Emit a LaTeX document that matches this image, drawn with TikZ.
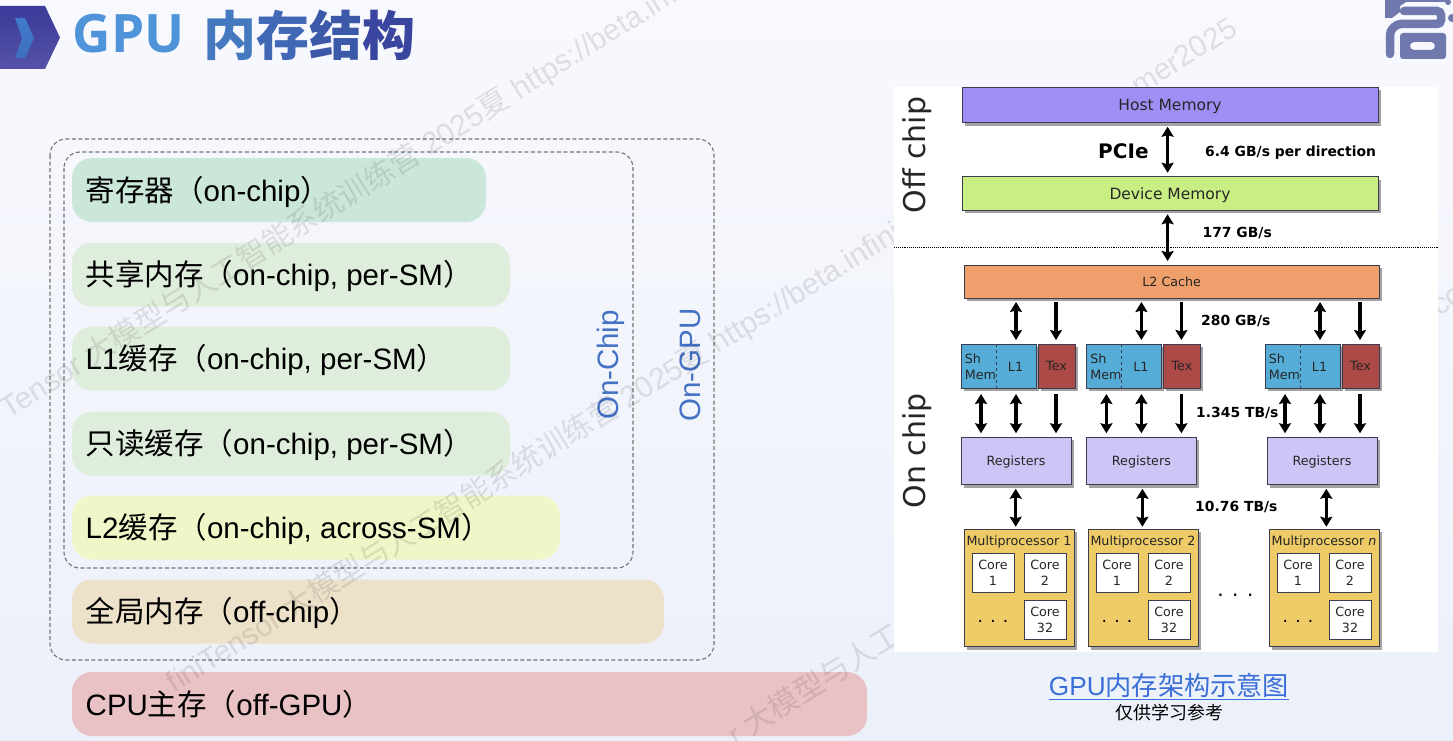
\documentclass[tikz,border=0pt]{standalone}
\usepackage{fontspec}
\usepackage{tikz}
\usetikzlibrary{arrows.meta,shadows}
\setmainfont{Liberation Sans}
\newfontfamily\cjk{Noto Sans CJK SC}
\newfontfamily\titlefont{Open Sans}
\newfontfamily\dvsans{DejaVu Sans}
\newcommand{\zh}[1]{{\cjk #1}}
\newcommand{\fsize}[1]{\fontsize{#1}{#1}\selectfont}
\definecolor{bgtop}{HTML}{F8F9FE}
\definecolor{bgbot}{HTML}{ECF0F9}
\definecolor{iconA}{HTML}{3B3A98}
\definecolor{iconB}{HTML}{5652A8}
\definecolor{chevA}{HTML}{3E7CCB}
\definecolor{chevB}{HTML}{3F6FBE}
\definecolor{labelblue}{HTML}{4472C4}
\definecolor{linkblue}{HTML}{3A6FD8}
\definecolor{logoblue}{HTML}{6F79AE}
\definecolor{boxline}{HTML}{3C3C50}
\definecolor{hostcol}{HTML}{9E8FF5}
\definecolor{devcol}{HTML}{C9EF84}
\definecolor{cachecol}{HTML}{EE9F6B}
\definecolor{smcol}{HTML}{55ACD6}
\definecolor{texcol}{HTML}{AC4A47}
\definecolor{regcol}{HTML}{CDC5F5}
\definecolor{mpcol}{HTML}{EECB67}
\tikzset{
    membar/.style={anchor=west, inner xsep=13pt, inner ysep=0pt, outer sep=0pt, minimum height=64pt, align=left, rounded corners=20pt, font=\fsize{29.5}},
    dashbox/.style={draw=black!55, line width=1.1pt, dash pattern=on 4pt off 2.5pt, rounded corners=16pt},
    sidelabel/.style={rotate=90, text=labelblue, font=\fsize{29.5}},
    wmark/.style={rotate=32, anchor=base west, text=black, opacity=0.1, font=\fsize{30}},
    hwbox/.style={draw=boxline, line width=0.8pt, inner sep=0pt, outer sep=0pt, align=center, text=black!85, text height=9.3pt, text depth=0pt,
        drop shadow={shadow xshift=3pt, shadow yshift=-3pt, fill=black!60, opacity=0.6}, font=\dvsans\fsize{12.7}},
    corebox/.style={draw=boxline, line width=0.7pt, fill=white, minimum width=42pt, minimum height=39pt, inner sep=0pt,
        align=center, text=black!85, font=\dvsans\fontsize{12.7}{16}\selectfont},
    rate/.style={anchor=west, inner sep=0pt, font=\dvsans\bfseries\fsize{13.9}},
    both/.style={{Stealth[length=10pt,width=12pt,inset=1.5pt]}-{Stealth[length=10pt,width=12pt,inset=1.5pt]}, line width=3.4pt, shorten >=4pt, shorten <=4pt},
    down/.style={-{Stealth[length=10pt,width=12pt,inset=1.5pt]}, line width=3.4pt, shorten >=4pt, shorten <=4pt}
}
\begin{document}
\begin{tikzpicture}[x=1pt,y=-1pt]
    \useasboundingbox (0,0) rectangle (1453,741);
    \shade[top color=bgtop, bottom color=bgbot] (0,0) rectangle (1453,741);
    \clip (0,0) rectangle (1453,741);

    \shade[top color=iconA, bottom color=iconB] (0,6) -- (45,6) -- (60,37.5) -- (45,69) -- (0,69) -- cycle;
    \shade[top color=chevA, bottom color=chevB] (15,18) -- (25,18) -- (34,38) -- (25,58) -- (15,58) -- (22,38) -- cycle;
    \node[anchor=base west, inner sep=0pt, font=\bfseries\fsize{53}] (title) at (72.5,53)
        {\titlefont\bfseries\textcolor[HTML]{4F94D8}{GPU} \hspace{5pt}\zh{\bfseries\raisebox{-3pt}{\textcolor[HTML]{4479C0}{内}\textcolor[HTML]{4068B4}{存}\textcolor[HTML]{3C58A8}{结}\textcolor[HTML]{3A45A0}{构}}}};

    \fill[logoblue] (1385,0) -- (1447,0) -- (1447,2) -- (1406,2) -- (1400,6) -- (1400,12) -- (1392,18) -- (1385,18) -- cycle;
    \draw[logoblue, line width=8.5pt, rounded corners=4pt, line cap=round] (1404,11) -- (1441,11) -- (1441,24) -- (1397,24) -- (1390,31) -- (1390,54);
    \fill[logoblue, even odd rule, rounded corners=3pt] (1400,33) rectangle (1446,59) [rounded corners=4pt] (1410,42) rectangle (1435,50);
    \fill[logoblue] (1452,18) circle (4pt) (1448,2) circle (3pt);

    \foreach \name/\y/\w/\col/\txt in {
        reg/190/388/CBE7DA/{\zh{寄存器（}on-chip\zh{）}},
        shm/274.5/412/DFEEDC/{\zh{共享内存（}on-chip, per-SM\zh{）}},
        lone/358.5/412/DFEEDC/{L1\zh{缓存（}on-chip, per-SM\zh{）}},
        ro/443.5/412/DFEEDC/{\zh{只读缓存（}on-chip, per-SM\zh{）}},
        ltwo/527.5/462/F1F6C8/{L2\zh{缓存（}on-chip, across-SM\zh{）}},
        glob/611.5/566/EDE1CA/{\zh{全局内存（}off-chip\zh{）}},
        cpu/704/769/E9C2C6/{CPU\zh{主存（}off-GPU\zh{）}}
    } {
        \definecolor{barcol}{HTML}{\col}
        \node[membar, fill=barcol, minimum width=\w pt+26pt] (\name) at (72,\y) {};
        \node[anchor=base west, inner sep=0pt, font=\fsize{29.5}] (\name text) at (85.5,\y+11) {\txt};
    }

    \draw[dashbox] (50,139) rectangle (714,660);
    \draw[dashbox] (64,152) rectangle (633,568);
    \node[sidelabel] (onchip) at (611,365) {On-Chip};
    \node[sidelabel] (ongpu) at (690,365) {On-GPU};

    \node[wmark] (wma) at (6,421) {Tensor \zh{大模型与人工智能系统训练营} 2025\zh{夏} https://beta.infini};
    \node[wmark] (wmb) at (172,695) {finiTensor \zh{大模型与人工智能系统训练营} 2025\zh{夏} https://beta.infini};
    \node[wmark] (wmc) at (733,748) {r \zh{大模型与人工}};
    \node[wmark] (wmd) at (1136,98) {mer2025};
    \node[wmark] (wme) at (1436,318) {co};

    \node[fill=white, minimum width=544pt, minimum height=565pt, inner sep=0pt, anchor=north west] (img) at (894,87) {};

    \node[hwbox, fill=hostcol, minimum width=416pt, minimum height=35.5pt, text height=11.3pt, font=\dvsans\fsize{15.5}] (host) at (1170,105) {Host Memory};
    \node[hwbox, fill=devcol, minimum width=416pt, minimum height=33.5pt, text height=11.3pt, font=\dvsans\fsize{15.5}] (device) at (1170,193.5) {Device Memory};
    \node[hwbox, fill=cachecol, minimum width=415pt, minimum height=33pt] (ltwocache) at (1171.7,281.5) {L2 Cache};
    \coordinate (pcie) at (1167.6,0);
    \coordinate (lineleft) at (894,247.7);
    \coordinate (lineright) at (1438,247.7);
    \draw[densely dotted, line width=0.9pt] (lineleft) -- (lineright);
    \draw[both] (host.south -| pcie) -- (device.north -| pcie);
    \draw[both] (device.south -| pcie) -- (ltwocache.north -| pcie);

    \node[inner sep=0pt, font=\dvsans\bfseries\fsize{20}] (pcielabel) at (1123.4,151) {PCIe};
    \node[rate] (ratea) at (1205,152.5) {6.4 GB/s per direction};
    \node[rate] (rateb) at (1202.4,233) {177 GB/s};
    \node[rate] (ratec) at (1201,321) {280 GB/s};
    \node[rate] (rated) at (1196,413) {1.345 TB/s};
    \node[rate] (ratee) at (1195,507) {10.76 TB/s};

    \foreach \i/\x/\rx/\mx/\rgx/\n in {
        1/961/1015.7/964/961/1,
        2/1086.4/1142.4/1088/1086.4/2,
        3/1265/1326.3/1269/1267/\textit{n}
    } {
        \node[hwbox, fill=smcol, minimum width=75pt, minimum height=44pt] (sm\i) at (\x+37.5,366) {};
        \node[hwbox, fill=texcol, minimum width=37pt, minimum height=44pt] (tex\i) at (\x+95.5,366) {Tex};
        \node[inner sep=0pt, align=left, anchor=west, text=black!85, font=\dvsans\fontsize{12.7}{16}\selectfont] (shmem\i) at (\x+3.7,367) {Sh\\Mem};
        \node[inner sep=0pt, text=black!85, font=\dvsans\fsize{12.7}] (lone\i) at (\x+54.5,367) {L1};
        \draw[dashed, boxline] (sm\i.north -| shmem\i.east) -- (sm\i.south -| shmem\i.east);
        \node[hwbox, fill=regcol, minimum width=110pt, minimum height=47.5pt] (rg\i) at (\rgx+55,461) {Registers};
        \node[hwbox, fill=mpcol, minimum width=110pt, minimum height=117.5pt] (mp\i) at (\mx+55,588) {};
        \node[inner sep=0pt, text=black!85, text height=9.3pt, text depth=0pt, font=\dvsans\fsize{12.7}] (mplabel\i) at (\mx+55,540.5) {Multiprocessor \n};
        \node[corebox] (corea\i) at (\mx+29,572.5) {Core\\1};
        \node[corebox] (coreb\i) at (\mx+81,572.5) {Core\\2};
        \node[corebox] (corec\i) at (\mx+81,620) {Core\\32};
        \node[inner sep=0pt, font=\dvsans\fsize{17}] (dots\i) at (\mx+29,621.5) {. . .};
        \coordinate (cola\i) at (\x+20,0);
        \coordinate (colb\i) at (\x+55,0);
        \coordinate (colc\i) at (\x+95,0);
        \coordinate (cold\i) at (\rx,0);
        \draw[both] (ltwocache.south -| colb\i) -- (sm\i.north -| colb\i);
        \draw[down] (ltwocache.south -| colc\i) -- (tex\i.north -| colc\i);
        \draw[both, shorten <=6pt] (sm\i.south -| cola\i) -- (rg\i.north -| cola\i);
        \draw[both, shorten <=6pt] (sm\i.south -| colb\i) -- (rg\i.north -| colb\i);
        \draw[down, shorten <=6pt] (tex\i.south -| colc\i) -- (rg\i.north -| colc\i);
        \draw[both, shorten >=2.5pt] (rg\i.south -| cold\i) -- (mp\i.north -| cold\i);
    }
    \node[inner sep=0pt, font=\dvsans\fsize{20}] (middots) at (1235.4,595) {. . .};

    \node[rotate=90, inner sep=0pt, text=black!85, font=\dvsans\fsize{30}] (offchip) at (917,155) {Off chip};
    \node[rotate=90, inner sep=0pt, text=black!85, font=\dvsans\fsize{30}] (onchipb) at (917,451) {On chip};

    \node[inner sep=0pt, text=linkblue, font=\fsize{26.2}] (caption) at (1169,685.5) {GPU\zh{内存架构示意图}};
    \coordinate (capline) at (0,699);
    \draw[linkblue, line width=1pt] (caption.west |- capline) -- (caption.east |- capline);
    \node[inner sep=0pt, font=\cjk\fsize{18}] (note) at (1169,713) {仅供学习参考};
\end{tikzpicture}
\end{document}
